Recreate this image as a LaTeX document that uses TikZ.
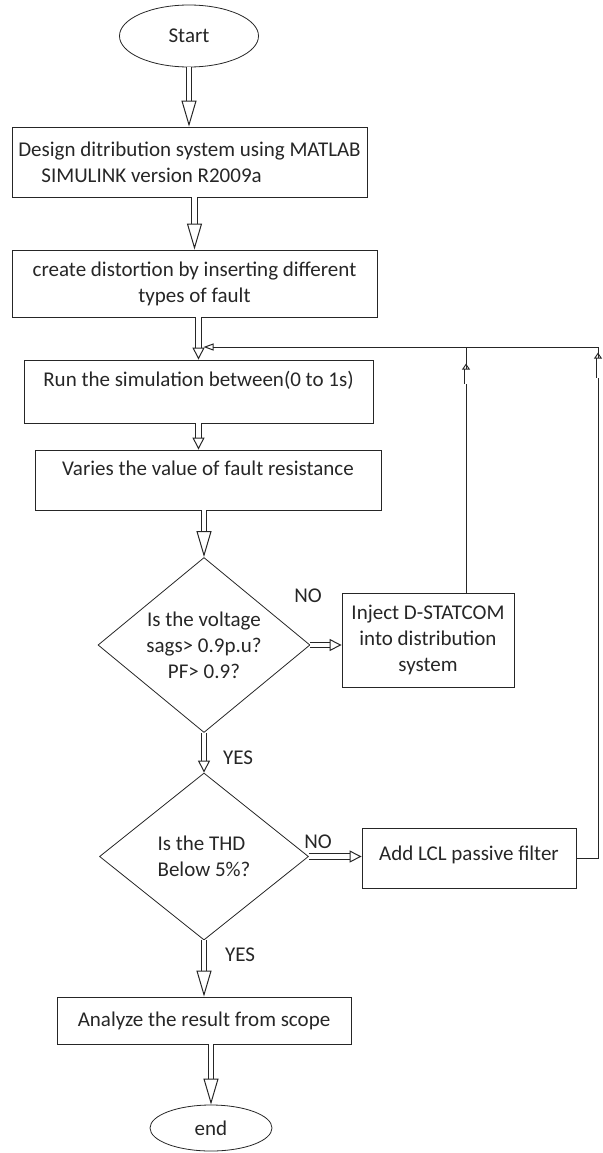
\documentclass[tikz,border=0pt]{standalone}
\usepackage{fontspec}
\setmainfont{Carlito}
\usetikzlibrary{shapes.geometric,arrows.meta,decorations.markings}

\tikzset{
  every node/.style={font=\fontsize{21}{26}\selectfont},
  box/.style={draw, rectangle, align=center, inner sep=0pt},
  term/.style={draw, ellipse, inner sep=0pt},
  decision/.style={draw, diamond, align=center, inner sep=-4pt},
  blockarrow/.style={double, double distance=4.5pt, line width=1.1pt,
    -{Triangle[open, length=26pt, width=15pt, line width=1pt]}},
  smallarrow/.style={double, double distance=4.5pt, line width=1.1pt,
    -{Triangle[open, length=12pt, width=12pt, line width=1pt]}},
  fbline/.style={line width=1pt},
  upmark/.style={postaction={decorate}, decoration={markings,
    mark=at position #1 with {\draw[double, double distance=3pt, line width=0.9pt,
      -{Triangle[open, length=6pt, width=8pt, line width=0.9pt]}] (-16pt,0) -- (9pt,0);}}},
}

\begin{document}
\begin{tikzpicture}[x=1pt, y=-1pt, line width=0.8pt, color=black!85]
    \useasboundingbox (0,0) rectangle (602,1153);

    % main column
    \node[term, minimum width=139, minimum height=62] (start) at (189,36) {Start};
    \node[box, align=left, minimum width=355, minimum height=70] (design) at (189.5,162)
        {Design ditribution system using MATLAB\\\hspace*{1.1em}SIMULINK version R2009a};
    \node[box, minimum width=365, minimum height=67] (distort) at (194.5,283.5)
        {create distortion by inserting different\\types of fault};
    \node[box, minimum width=349, minimum height=63, text height=15pt, text depth=26pt] (run) at (198.5,391.5)
        {Run the simulation between(0 to 1s)};
    \node[box, minimum width=346, minimum height=60, text height=15pt, text depth=25pt] (vary) at (208,480)
        {Varies the value of fault resistance};
    \node[decision, minimum width=212, minimum height=175] (volt) at (204,645)
        {Is the voltage\\sags> 0.9p.u?\\PF> 0.9?};
    \node[decision, align=left, minimum width=209, minimum height=167] (thd) at (204,856.5)
        {Is the THD\\Below 5\%?};
    \node[box, minimum width=294, minimum height=47] (analyze) at (204,1020.5)
        {Analyze the result from scope};
    \node[term, minimum width=122, minimum height=46] (end) at (211,1128) {end};

    % side boxes
    \node[box, minimum width=172, minimum height=94] (inject) at (428,640)
        {Inject D-STATCOM\\into distribution\\system};
    \node[box, minimum width=214, minimum height=60, text height=15pt, text depth=11pt] (lcl) at (469,858)
        {Add LCL passive filter};

    % branch labels
    \node (no1) at (308,596) {NO};
    \node (yes1) at (238,758) {YES};
    \node (no2) at (318,842) {NO};
    \node (yes2) at (240,955) {YES};

    \coordinate (join) at (198.5,347);
    \coordinate (fb1) at (466,347);
    \coordinate (fb2) at (598,347);

    % flow arrows
    \draw[blockarrow] (start.south) -- (start.south |- design.north);
    \draw[blockarrow] (distort.north |- design.south) -- (distort.north);
    \draw[smallarrow] (run.north |- distort.south) -- (run.north);
    \draw[smallarrow] (run.south) -- (run.south |- vary.north);
    \draw[blockarrow] (volt.north |- vary.south) -- (volt.north);
    \draw[smallarrow] (volt.east) -- (volt.east -| inject.west);
    \draw[smallarrow] (volt.south) -- (thd.north);
    \draw[smallarrow] (thd.east) -- (thd.east -| lcl.west);
    \draw[blockarrow] (thd.south) -- (analyze.north);
    \draw[blockarrow] (end.north |- analyze.south) -- (end.north);

    % feedback loops
    \draw[fbline, upmark=225pt, shorten >=5pt, -{Triangle[open, length=10pt, width=7pt]}]
        (fb1 |- inject.north) -- (fb1) -- (join);
    \draw[fbline, upmark=518pt] (lcl.east) -| (fb2) -- (fb1);
\end{tikzpicture}
\end{document}
